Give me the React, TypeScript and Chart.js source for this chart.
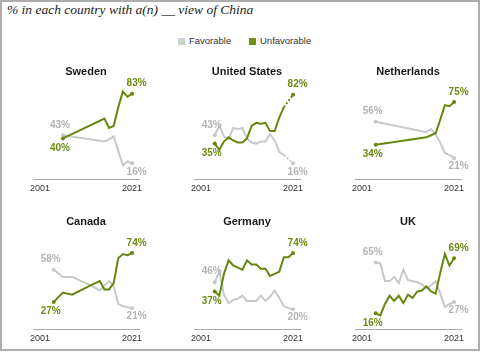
import React, { useEffect, useRef } from 'react';
import { Chart, registerables } from 'chart.js';

Chart.register(...registerables);

// ---------- data ----------
const chartTitle = '% in each country with a(n) __ view of China';
const legendLabels = ['Favorable', 'Unfavorable'];
const tickYears = [2001, 2021];
const tickLabels = ['2001', '2021'];

const swedenYears = [2006, 2015, 2016, 2017, 2018, 2019, 2020, 2021];
const swedenUnfav = [40, 59, 50, 52, 70, 85, 80, 83];
const swedenFav = [43, 37, 39, 42, 28, 14, 18, 16];

const usYears = [2004, 2005, 2006, 2007, 2008, 2009, 2010, 2011, 2012, 2013, 2014, 2015, 2016, 2017, 2018, 2019, 2020, 2021];
const usUnfav = [35, 29, 37, 41, 38, 36, 36, 40, 52, 55, 54, 55, 47, 47, 60, 70, 76, 82];
const usFav = [43, 52, 42, 39, 50, 49, 50, 40, 36, 35, 37, 37, 44, 38, 27, 24, 20, 16];
const usDashFrom = 2019;

const nlYears = [2004, 2015, 2016, 2017, 2018, 2019, 2020, 2021];
const nlUnfav = [34, 41, 43, 45, 58, 72, 71, 75];
const nlFav = [56, 46, 49, 44, 36, 26, 24, 21];

const canadaYears = [2004, 2006, 2008, 2012, 2014, 2015, 2016, 2017, 2018, 2019, 2020, 2021];
const canadaUnfav = [27, 36, 34, 43, 47, 39, 39, 45, 69, 73, 72, 74];
const canadaFav = [58, 51, 51, 43, 38, 43, 47, 42, 25, 23, 22, 21];

const germanyYears = [2004, 2005, 2006, 2007, 2008, 2009, 2010, 2011, 2012, 2013, 2014, 2015, 2016, 2017, 2018, 2019, 2020, 2021];
const germanyUnfav = [37, 33, 54, 67, 62, 60, 58, 67, 63, 63, 59, 59, 52, 54, 56, 70, 70, 74];
const germanyFav = [46, 56, 34, 26, 29, 30, 33, 28, 28, 28, 33, 28, 32, 38, 31, 23, 21, 20];

const ukYears = [2004, 2005, 2006, 2007, 2008, 2009, 2010, 2011, 2012, 2013, 2014, 2015, 2016, 2017, 2018, 2019, 2020, 2021];
const ukUnfav = [16, 14, 25, 33, 28, 33, 26, 34, 31, 37, 38, 42, 37, 35, 55, 73, 62, 69];
const ukFav = [65, 64, 47, 47, 51, 45, 58, 48, 47, 46, 44, 40, 43, 47, 35, 22, 25, 27];

// ---------- styles ----------
const GREEN = '#66870f';
const GREEN_TEXT = '#6c8c12';
const GRAY = '#c6c9cc';
const GRAY_TEXT = '#b2b5b8';
const AXIS = '#a9a9a9';
const SANS = '"Liberation Sans", Arial, sans-serif';
const X_MIN = 1999.5;
const X_MAX = 2022.5;

const panels = [
  { title: 'Sweden', years: swedenYears, unfav: swedenUnfav, fav: swedenFav, dashFrom: null as number | null },
  { title: 'United States', years: usYears, unfav: usUnfav, fav: usFav, dashFrom: usDashFrom as number | null },
  { title: 'Netherlands', years: nlYears, unfav: nlUnfav, fav: nlFav, dashFrom: null as number | null },
  { title: 'Canada', years: canadaYears, unfav: canadaUnfav, fav: canadaFav, dashFrom: null as number | null },
  { title: 'Germany', years: germanyYears, unfav: germanyUnfav, fav: germanyFav, dashFrom: null as number | null },
  { title: 'UK', years: ukYears, unfav: ukUnfav, fav: ukFav, dashFrom: null as number | null },
];

const colLefts = [0, 161, 322];
const rowTops = [60, 210];
const CW = 158;
const CH = 140;

const endLabels = {
  id: 'endLabels',
  afterDatasetsDraw(chart: any) {
    const { ctx } = chart;
    const ds = chart.data.datasets;
    ds.forEach((d: any, i: number) => {
      const other = ds[1 - i];
      const pts = chart.getDatasetMeta(i).data;
      if (!pts.length) return;
      const first = d.data[0].y;
      const last = d.data[d.data.length - 1].y;
      const oFirst = other.data[0].y;
      const oLast = other.data[other.data.length - 1].y;
      const p0 = pts[0];
      const pn = pts[pts.length - 1];
      ctx.save();
      ctx.font = 'bold 10px ' + SANS;
      ctx.fillStyle = d.textColor;
      ctx.textAlign = 'center';
      ctx.textBaseline = 'middle';
      ctx.fillText(first + '%', p0.x - 3, p0.y + (first >= oFirst ? -10.5 : 9.5));
      ctx.fillText(last + '%', pn.x + 4.5, pn.y + (last >= oLast ? -10 : 8.5));
      ctx.restore();
    });
  },
};

function makeDataset(label: string, years: number[], values: number[], color: string, textColor: string, dashFrom: number | null) {
  const n = years.length;
  return {
    label,
    data: years.map((x, i) => ({ x, y: values[i] })),
    borderColor: color,
    backgroundColor: color,
    textColor,
    borderWidth: 2,
    tension: 0,
    pointRadius: (c: any) => (c.dataIndex === 0 || c.dataIndex === n - 1 ? 2 : 0),
    pointHoverRadius: 0,
    pointBorderWidth: 0,
    clip: false as any,
    segment: {
      borderDash: (c: any) => (dashFrom !== null && years[c.p0DataIndex] >= dashFrom ? [2, 2] : undefined),
    },
  };
}

function Panel({ p, left, top }: { p: any; left: number; top: number }) {
  const ref = useRef<HTMLCanvasElement>(null);
  useEffect(() => {
    const chart = new Chart(ref.current as HTMLCanvasElement, {
      type: 'line',
      data: {
        datasets: [
          makeDataset(legendLabels[1], p.years, p.unfav, GREEN, GREEN_TEXT, p.dashFrom),
          makeDataset(legendLabels[0], p.years, p.fav, GRAY, GRAY_TEXT, p.dashFrom),
        ] as any,
      },
      options: {
        responsive: false,
        animation: false,
        events: [],
        layout: { padding: { left: 33, right: CW - 139, top: 16, bottom: 2 } },
        plugins: { legend: { display: false }, tooltip: { enabled: false }, title: { display: false } },
        scales: {
          x: {
            type: 'linear',
            min: X_MIN,
            max: X_MAX,
            grid: { display: true, color: 'rgba(0,0,0,0)', drawTicks: false },
            border: { display: true, color: AXIS, width: 1 },
            afterBuildTicks: (s: any) => {
              s.ticks = tickYears.map((v) => ({ value: v }));
            },
            ticks: {
              color: '#333',
              padding: 3,
              maxRotation: 0,
              autoSkip: false,
              font: { family: SANS, size: 9, lineHeight: 1.3334 },
              callback: (v: any) => {
                const idx = tickYears.indexOf(Number(v));
                return idx >= 0 ? tickLabels[idx] : '';
              },
            },
          },
          y: { display: false, min: 0, max: 100 },
        },
      } as any,
      plugins: [endLabels],
    });
    return () => chart.destroy();
  }, []);
  return (
    <>
      <canvas
        ref={ref}
        width={CW}
        height={CH}
        style={{ position: 'absolute', left, top, width: CW, height: CH }}
      />
      <div
        style={{
          position: 'absolute',
          left: left + 33,
          top: top + 5,
          width: 106,
          textAlign: 'center',
          font: 'bold 11px ' + SANS,
          lineHeight: '13px',
          color: '#1a1a1a',
          whiteSpace: 'nowrap',
        }}
      >
        {p.title}
      </div>
    </>
  );
}

export default function App() {
  return (
    <div
      style={{
        position: 'absolute',
        left: 0,
        top: 0,
        width: 480,
        height: 354,
        background: '#fff',
        overflow: 'hidden',
      }}
    >
      <div
        style={{
          position: 'absolute',
          left: 0,
          top: 0,
          width: 480,
          height: 351,
          boxSizing: 'border-box',
          border: '2px solid #adadad',
        }}
      />
      <div
        style={{
          position: 'absolute',
          left: 7,
          top: 2,
          font: 'italic 13.5px "Liberation Serif", serif',
          lineHeight: '16px',
          color: '#222',
          whiteSpace: 'nowrap',
        }}
      >
        {chartTitle}
      </div>
      <div style={{ position: 'absolute', left: 178, top: 38, width: 7, height: 7, background: '#cdd0d3' }} />
      <div style={{ position: 'absolute', left: 189, top: 35, font: '9.5px ' + SANS, lineHeight: '12px', color: '#333' }}>
        {legendLabels[0]}
      </div>
      <div style={{ position: 'absolute', left: 249, top: 38, width: 7, height: 7, background: '#738f1a' }} />
      <div style={{ position: 'absolute', left: 260, top: 35, font: '9.5px ' + SANS, lineHeight: '12px', color: '#333' }}>
        {legendLabels[1]}
      </div>
      {panels.map((p, i) => (
        <Panel key={p.title} p={p} left={colLefts[i % 3]} top={rowTops[Math.floor(i / 3)]} />
      ))}
    </div>
  );
}
